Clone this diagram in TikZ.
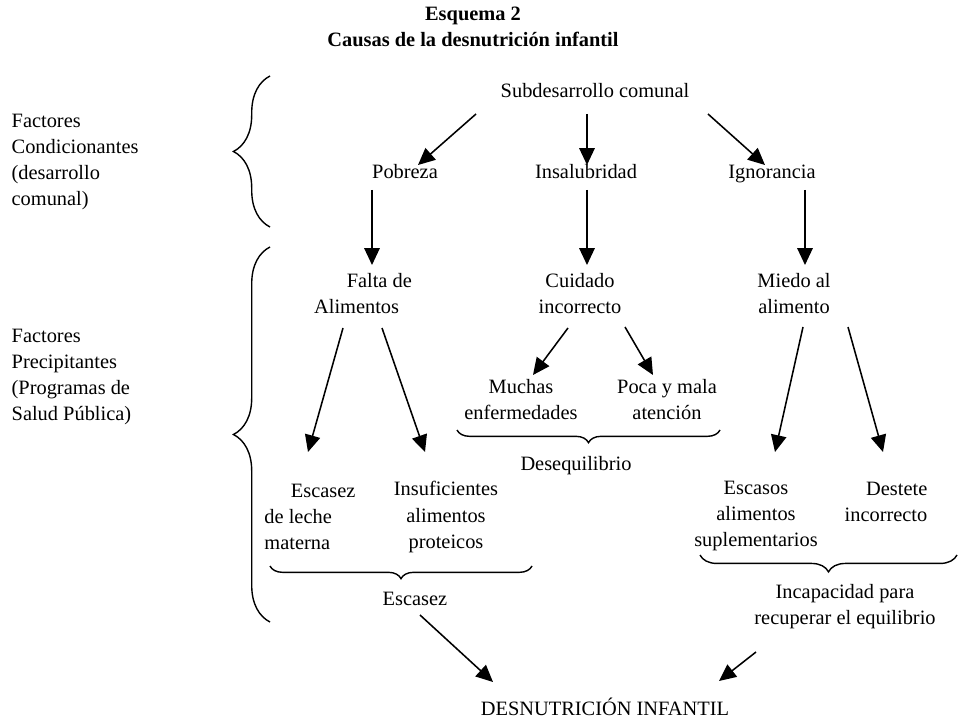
\documentclass[tikz,border=0pt]{standalone}
\usepackage{fontspec}
\setmainfont{Liberation Serif}
\usetikzlibrary{arrows.meta,decorations.pathreplacing}

\begin{document}
\begin{tikzpicture}[x=0.025cm,y=-0.025cm,
	txt/.style={font=\fontsize{14.5}{18.5}\selectfont, align=center, inner sep=1pt},
	one/.style={txt, text height=0.75em, text depth=0.25em, yshift=-0.1cm},
	arr/.style={-{Triangle[length=12pt,width=11pt]}, line width=1.1pt},
	brc/.style={decorate, decoration={brace,amplitude=#1}, line width=1pt}]

\useasboundingbox (0,0) rectangle (967,721);

\node [txt, font=\fontsize{14.5}{18.5}\selectfont\bfseries] (title) at (473,27) {Esquema 2\\Causas de la desnutrición infantil};

\node [txt, align=left, anchor=west] (condic) at (10,162) {Factores\\Condicionantes\\(desarrollo\\comunal)};
\node [txt, align=left, anchor=west] (precip) at (10,377) {Factores\\Precipitantes\\(Programas de\\Salud Pública)};

\node [one] (sub) at (595,90) {Subdesarrollo comunal};

\node [one] (pob) at (405,171) {Pobreza};
\node [one] (insal) at (586,171) {Insalubridad};
\node [one] (ign) at (772,171) {Ignorancia};

\node [txt, align=left] (falta) at (363,294) {\hspace*{1.6em}Falta de\\Alimentos};
\node [txt] (cuid) at (580,294) {Cuidado\\incorrecto};
\node [txt] (miedo) at (794,294) {Miedo al\\alimento};

\node [txt] (muchas) at (521,400) {Muchas\\enfermedades};
\node [txt] (poca) at (667,400) {Poca y mala\\atención};
\node [one] (deseq) at (576,463) {Desequilibrio};

\node [txt, align=left] (leche) at (310,517) {\hspace*{1.3em}Escasez\\de leche\\materna};
\node [txt] (insuf) at (446,517) {Insuficientes\\alimentos\\proteicos};
\node [txt] (escasos) at (756,516) {Escasos\\alimentos\\suplementarios};
\node [txt, align=right] (destete) at (886,502) {Destete\\incorrecto};

\node [one] (escasez) at (415,598) {Escasez};
\node [txt] (incap) at (845,607) {Incapacidad para\\recuperar el equilibrio};

\node [one] (desnut) at (605,708) {DESNUTRICIÓN INFANTIL};

\draw [brc=26pt] (270,227) -- (270,76);
\draw [brc=26pt] (270,622) -- (270,247);
\draw [brc=9pt] (720,430) -- (457,430);
\draw [brc=9pt] (532,566) -- (270,566);
\draw [brc=12pt] (957,555) -- (700,555);

\draw [arr] ([shift={(-119,20)}]sub.center) -- ([shift={(13,-10)}]pob.center);
\draw [arr] ([shift={(-8,20)}]sub.center) -- ([shift={(1,-10)}]insal.center);
\draw [arr] ([shift={(113,20)}]sub.center) -- ([shift={(-7,-10)}]ign.center);

\draw [arr] ([shift={(-33,15)}]pob.center) -- ([shift={(9,-29)}]falta.center);
\draw [arr] ([shift={(1,15)}]insal.center) -- ([shift={(7,-29)}]cuid.center);
\draw [arr] ([shift={(33,15)}]ign.center) -- ([shift={(11,-29)}]miedo.center);

\draw [arr] ([shift={(-20,34)}]falta.center) -- ([shift={(-2,-65)}]leche.center);
\draw [arr] ([shift={(19,34)}]falta.center) -- ([shift={(-21,-65)}]insuf.center);
\draw [arr] ([shift={(-12,34)}]cuid.center) -- ([shift={(12,-25)}]muchas.center);
\draw [arr] ([shift={(45,33)}]cuid.center) -- ([shift={(-14,-25)}]poca.center);
\draw [arr] ([shift={(9,33)}]miedo.center) -- ([shift={(19,-64)}]escasos.center);
\draw [arr] ([shift={(54,33)}]miedo.center) -- ([shift={(-3,-50)}]destete.center);

\draw [arr] ([shift={(5,13)}]escasez.center) -- ([shift={(-112,-30)}]desnut.center);
\draw [arr] ([shift={(-89,45)}]incap.center) -- ([shift={(114,-31)}]desnut.center);

\end{tikzpicture}
\end{document}
